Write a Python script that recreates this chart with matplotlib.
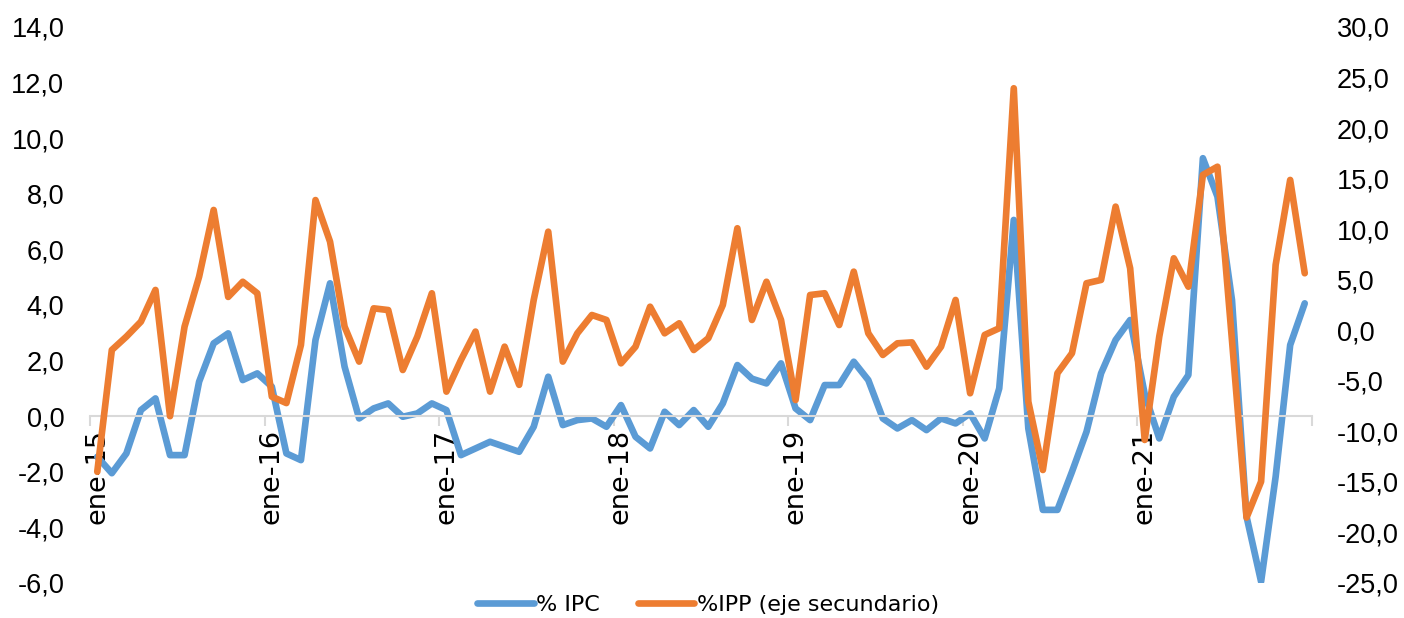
import numpy as np
import matplotlib
matplotlib.use("Agg")
import matplotlib.pyplot as plt
from matplotlib.ticker import FuncFormatter, FixedLocator

plt.rcParams['font.family'] = ['DejaVu Sans']

# monthly series, ene-15 .. dic-21
ipc = [-1.46, -2.05, -1.34, 0.22, 0.64, -1.4, -1.4, 1.24, 2.62, 2.98, 1.3, 1.54,
       1.06, -1.34, -1.58, 2.74, 4.78, 1.78, -0.08, 0.28, 0.46, -0.02, 0.1, 0.46,
       0.22, -1.4, -1.16, -0.92, -1.1, -1.28, -0.38, 1.42, -0.32, -0.14, -0.08, -0.38,
       0.4, -0.74, -1.16, 0.16, -0.32, 0.22, -0.38, 0.46, 1.84, 1.35, 1.18, 1.9,
       0.28, -0.14, 1.12, 1.12, 1.96, 1.3, -0.08, -0.44, -0.14, -0.5, -0.08, -0.26,
       0.1, -0.8, 1.0, 7.06, -0.44, -3.37, -3.37, -2.0, -0.56, 1.54, 2.74, 3.46,
       0.8, -0.8, 0.7, 1.48, 9.28, 7.9, 4.18, -3.61, -5.95, -2.18, 2.56, 4.06]

ipp = [-14.0, -1.95, -0.63, 0.85, 3.99, -8.5, 0.36, 5.3, 11.9, 3.3, 4.8, 3.66,
       -6.57, -7.2, -1.45, 12.88, 8.77, 0.36, -3.1, 2.17, 2.0, -3.93, -0.63, 3.66,
       -6.07, -2.94, -0.13, -6.07, -1.62, -5.4, 3.0, 9.75, -3.1, -0.3, 1.51, 1.02,
       -3.27, -1.62, 2.33, -0.3, 0.69, -1.95, -0.79, 2.5, 10.09, 1.02, 4.8, 1.02,
       -6.9, 3.49, 3.66, 0.52, 5.8, -0.3, -2.44, -1.29, -1.2, -3.6, -1.62, 3.0,
       -6.23, -0.46, 0.2, 23.94, -7.06, -13.82, -4.25, -2.27, 4.65, 4.98, 12.23, 6.13,
       -10.85, -0.63, 7.12, 4.31, 15.37, 16.18, -1.0, -18.53, -14.97, 6.46, 14.87, 5.64]

years = ['15', '16', '17', '18', '19', '20', '21']
year_labels = ['ene-' + y for y in years]

blue = '#5B9BD5'
orange = '#ED7D31'

fig = plt.figure(figsize=(14.04, 6.18), dpi=100)
ax = fig.add_axes([90 / 1404, 1 - 583 / 618, 1222 / 1404, 556 / 618])
ax2 = ax.twinx()

x = np.arange(len(ipc))
l1, = ax.plot(x, ipc, color=blue, lw=4.8, solid_capstyle='round', solid_joinstyle='round')
l2, = ax2.plot(x, ipp, color=orange, lw=4.8, solid_capstyle='round', solid_joinstyle='round')

ax.set_xlim(-0.5, len(ipc) - 0.5)
ax.set_ylim(-6, 14)
ax2.set_ylim(-25, 30)
ax.set_yticks(np.arange(-6, 15, 2))
ax2.set_yticks(np.arange(-25, 31, 5))

fmt = FuncFormatter(lambda v, p: f"{v:.1f}".replace('.', ','))
ax.yaxis.set_major_formatter(fmt)
ax2.yaxis.set_major_formatter(fmt)

for a in (ax, ax2):
    for s in a.spines.values():
        s.set_visible(False)
ax.spines['bottom'].set_visible(True)
ax.spines['bottom'].set_position(('data', 0))
ax.spines['bottom'].set_color('#D9D9D9')
ax.spines['bottom'].set_linewidth(1.5)

ax.tick_params(axis='y', length=0, pad=18.5)
ax2.tick_params(axis='y', length=0, pad=18)
for t in ax.get_yticklabels() + ax2.get_yticklabels():
    t.set_fontfamily('Liberation Sans')
    t.set_fontsize(19.5)
    t.set_color('black')

ax.set_xticks(np.arange(0, len(ipc), 12))
ax.set_xticklabels(year_labels, rotation=90, fontsize=19.5)
ax.tick_params(axis='x', which='major', length=0, pad=9)
ax.xaxis.set_minor_locator(FixedLocator(np.arange(-0.5, len(ipc), 12)))
ax.tick_params(axis='x', which='minor', length=7, width=1.5, color='#D9D9D9', direction='out')

fig.legend([l1, l2], ['% IPC', '%IPP (eje secundario)'], loc='center',
           bbox_to_anchor=(708 / 1404, 1 - 605 / 618), ncol=2, frameon=False,
           fontsize=16, handlelength=2.55, columnspacing=1.7, handletextpad=0.1,
           borderpad=0.2)

fig.savefig('out.png', dpi=100)
